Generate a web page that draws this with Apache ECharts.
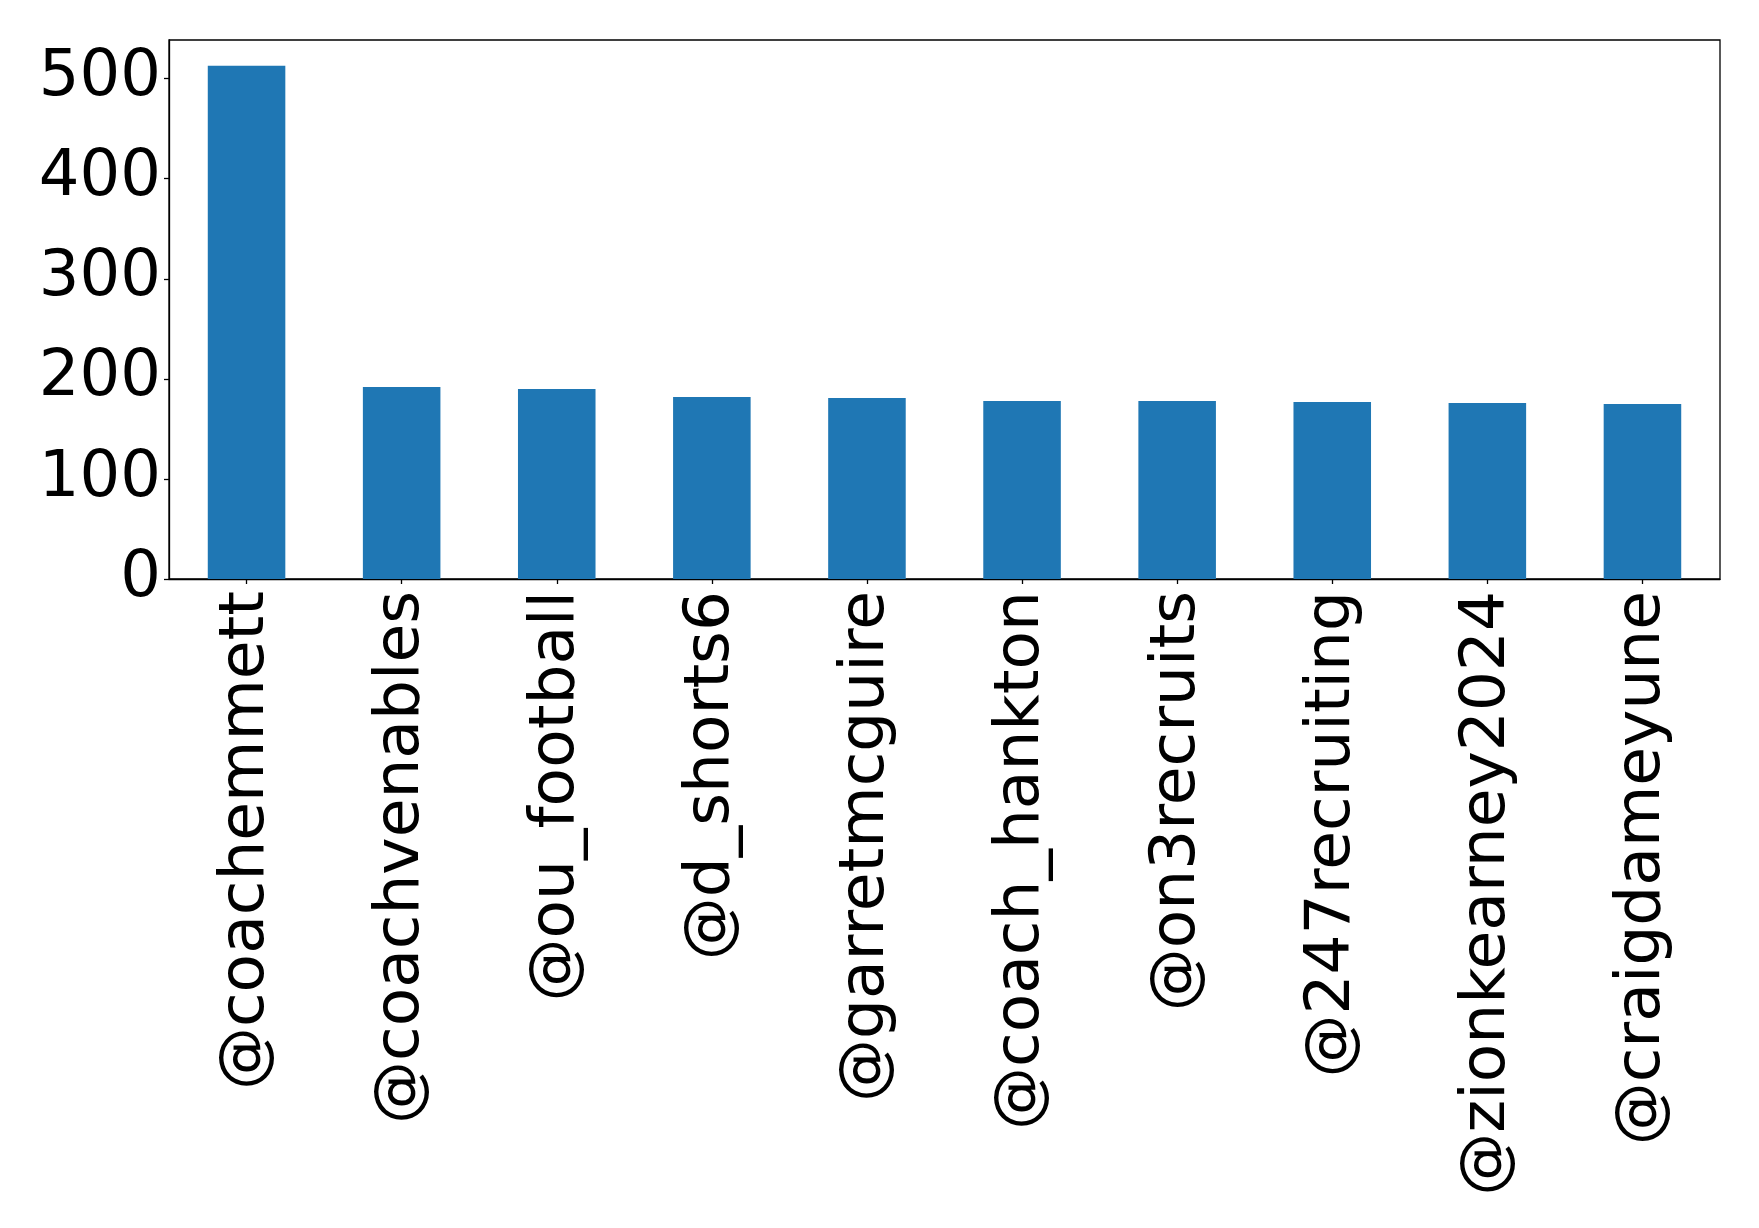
<!DOCTYPE html>
<html>
<head>
<meta charset="utf-8">
<script src="https://cdn.jsdelivr.net/npm/echarts@6/dist/echarts.min.js"></script>
<style>
  html, body { margin: 0; padding: 0; background: #ffffff; }
  #chart { width: 1759px; height: 1228px; }
</style>
</head>
<body>
<div id="chart"></div>
<script>
// Accounts and their counts
const accounts = [
  '@coachemmett', '@coachvenables', '@ou_football', '@d_shorts6', '@garretmcguire',
  '@coach_hankton', '@on3recruits', '@247recruiting', '@zionkearney2024', '@craigdameyune'
];
const counts = [513, 192, 190, 182, 181, 178, 178, 177, 176, 175];
const yTicks = [0, 100, 200, 300, 400, 500];

const FONT = 'DejaVu Sans';
const chart = echarts.init(document.getElementById('chart'), null, { renderer: 'canvas' });

chart.setOption({
  animation: false,
  backgroundColor: '#ffffff',
  grid: {
    left: 169, top: 40, right: 39, bottom: 649,
    show: true, borderColor: '#000000', borderWidth: 1.3, backgroundColor: 'transparent'
  },
  xAxis: {
    type: 'category',
    data: accounts,
    boundaryGap: true,
    axisLine: { show: true, lineStyle: { color: '#000000', width: 1.3 } },
    axisTick: { show: true, alignWithLabel: true, length: 5, lineStyle: { color: '#000000', width: 1.3 } },
    axisLabel: {
      rotate: 90, interval: 0, margin: 12,
      fontFamily: FONT, fontSize: 63, color: '#000000'
    },
    splitLine: { show: false }
  },
  yAxis: {
    type: 'value',
    min: 0,
    max: 538.65,
    interval: 100,
    axisLine: { show: true, lineStyle: { color: '#000000', width: 1.3 } },
    axisTick: { show: true, length: 5, lineStyle: { color: '#000000', width: 1.3 } },
    axisLabel: {
      margin: 8, fontFamily: FONT, fontSize: 64, color: '#000000',
      showMaxLabel: false,
      formatter: v => (yTicks.includes(v) ? String(v) : '')
    },
    splitLine: { show: false }
  },
  series: [{
    type: 'bar',
    data: counts,
    barWidth: '50%',
    itemStyle: { color: '#1f77b4' }
  }]
});
</script>
</body>
</html>
